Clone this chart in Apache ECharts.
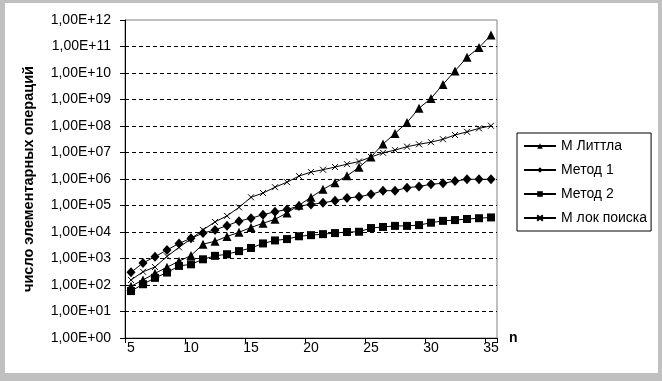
<!DOCTYPE html>
<html>
<head>
<meta charset="utf-8">
<script src="https://cdn.jsdelivr.net/npm/echarts@6/dist/echarts.min.js"></script>
<style>
html,body{margin:0;padding:0;background:#c0c0c0;}
#chart{width:662px;height:381px;}
</style>
</head>
<body>
<div id="chart"></div>
<script>
const categories = ['5','6','7','8','9','10','11','12','13','14','15','16','17','18','19','20','21','22','23','24','25','26','27','28','29','30','31','32','33','34','35'];
const seriesNames = ['М Литтла','Метод 1','Метод 2','М лок поиска'];
const mLittle = [89,155,275,468,794,1290,3470,4470,6760,9770,14800,21400,30200,52500,102000,204000,407000,724000,1320000,2750000,6760000,20900000,52500000,135000000,468000000,1100000000,3720000000,12000000000,38900000000,91200000000,269000000000];
const method1 = [300,680,1170,2100,3700,5800,9100,12000,17400,25700,33000,45000,58000,71000,95000,110000,126000,151000,190000,214000,263000,363000,363000,468000,525000,631000,692000,832000,977000,977000,977000];
const method2 = [59,107,186,295,525,603,933,1260,1450,1900,2500,3700,4800,5400,6900,7600,8300,9100,10000,10200,14100,15500,17000,17000,18200,22400,26300,28200,30900,33100,35500];
const mLocal = [155,316,479,1200,2630,5500,12000,24000,40700,85100,204000,295000,490000,759000,1290000,1820000,2240000,2820000,3630000,4570000,6760000,9770000,12300000,16600000,20400000,24500000,31600000,45700000,60300000,81300000,102000000];
const yTickLabels = ['1,00E+00','1,00E+01','1,00E+02','1,00E+03','1,00E+04','1,00E+05','1,00E+06','1,00E+07','1,00E+08','1,00E+09','1,00E+10','1,00E+11','1,00E+12'];
const xName = 'n';
const yName = 'число элементарных операций';

const font = 'Liberation Sans, Arial, sans-serif';
const chart = echarts.init(document.getElementById('chart'), null, {renderer:'canvas'});
function lineSeries(name, data, symbol, size, extra){
  return Object.assign({
    name: name, type: 'line', data: data, symbol: symbol, symbolSize: size,
    lineStyle: {color:'#000', width:1},
    itemStyle: {color:'#000'},
    showSymbol: true, showAllSymbol: true, animation: false, z: 3
  }, extra || {});
}
chart.setOption({
  animation: false,
  textStyle: {fontFamily: font},
  graphic: [{type:'rect', z:-10, silent:true, shape:{x:5,y:3,width:653,height:370}, style:{fill:'#fff'}}],
  grid: {left:125, top:20, width:372, height:318, show:true, borderColor:'#808080', borderWidth:1, backgroundColor:'transparent'},
  legend: {
    orient:'vertical', left:517, top:133, padding:[6,4,6,6], itemGap:10,
    itemWidth:32, itemHeight:7, borderColor:'#000', borderWidth:1, backgroundColor:'#fff',
    textStyle:{fontFamily:font, fontSize:14, color:'#000', lineHeight:14},
    data: seriesNames
  },
  xAxis: {
    type:'category', data: categories, boundaryGap:true,
    name: xName, nameLocation:'end', nameGap:12,
    nameTextStyle:{fontFamily:font, fontSize:14, fontWeight:'bold', color:'#000', verticalAlign:'middle'},
    axisLine:{lineStyle:{color:'#000', width:1}},
    axisTick:{show:true, interval:4, length:5, lineStyle:{color:'#000'}},
    axisLabel:{interval:4, margin:3, fontFamily:font, fontSize:14, color:'#000'},
    splitLine:{show:false}
  },
  yAxis: {
    type:'log', logBase:10, min:1, max:1e12, interval:1, splitNumber:12,
    name: yName, nameLocation:'middle', nameGap:89,
    nameTextStyle:{fontFamily:font, fontSize:14.5, fontWeight:'bold', color:'#000'},
    axisLine:{show:true, lineStyle:{color:'#000', width:1}},
    axisTick:{show:true, length:5, lineStyle:{color:'#000'}},
    axisLabel:{margin:14, fontFamily:font, fontSize:14, color:'#000',
      formatter: function(v){ return yTickLabels[Math.round(Math.log10(v))]; }},
    splitLine:{show:true, showMinLine:false, showMaxLine:false, lineStyle:{color:'#000', type:[4,3], width:1}}
  },
  series: [
    lineSeries(seriesNames[0], mLittle, 'triangle', [9,9]),
    lineSeries(seriesNames[1], method1, 'diamond', [9,10]),
    lineSeries(seriesNames[2], method2, 'rect', 8),
    lineSeries(seriesNames[3], mLocal, 'path://M0,0L10,10M10,0L0,10', 6, {itemStyle:{color:'#000', borderColor:'#000', borderWidth:1}})
  ]
});
</script>
</body>
</html>
